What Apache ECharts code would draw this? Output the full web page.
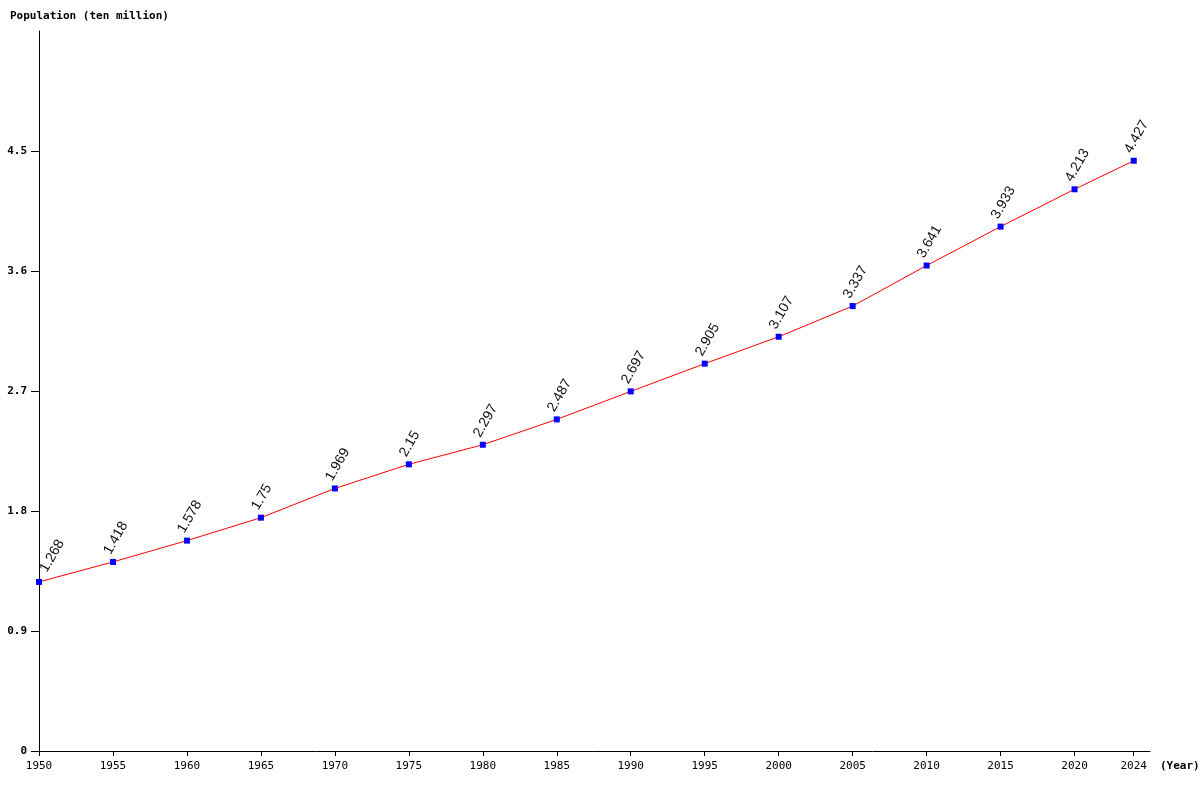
<!DOCTYPE html>
<html>
<head>
<meta charset="utf-8">
<script src="https://cdn.jsdelivr.net/npm/echarts@6/dist/echarts.min.js"></script>
<style>html,body{margin:0;padding:0;background:#fff}#c{width:1200px;height:800px}</style>
</head>
<body>
<div id="c"></div>
<script>
const years = [1950, 1955, 1960, 1965, 1970, 1975, 1980, 1985, 1990, 1995, 2000, 2005, 2010, 2015, 2020, 2024];
const population = [1.268, 1.418, 1.578, 1.75, 1.969, 2.15, 2.297, 2.487, 2.697, 2.905, 3.107, 3.337, 3.641, 3.933, 4.213, 4.427];
const yTicks = [0, 0.9, 1.8, 2.7, 3.6, 4.5];
const xTicks = years;

const chart = echarts.init(document.getElementById('c'), null, {renderer: 'canvas'});
const mono = '"DejaVu Sans Mono", monospace';
const seriesData = years.map((y, i) => {
  const item = {value: [y, population[i]]};
  if (i === 0) item.label = {offset: [9, 0]}; // first label kept clear of the y axis
  return item;
});
chart.setOption({
  animation: false,
  backgroundColor: '#fff',
  grid: {left: 39, right: 50, top: 31, bottom: 49, containLabel: false},
  graphic: [
    {type: 'text', left: 10, top: 11, style: {text: 'Population (ten million)', font: 'bold 11px ' + mono, fill: '#000'}},
    {type: 'text', left: 1160, top: 761, style: {text: '(Year)', font: 'bold 11px ' + mono, fill: '#000'}}
  ],
  xAxis: {
    type: 'value', min: 1950, max: 2025.1,
    axisLine: {show: true, onZero: false, lineStyle: {color: '#000', width: 1}},
    axisTick: {show: true, length: 5, customValues: xTicks, lineStyle: {color: '#000'}},
    axisLabel: {customValues: xTicks, color: '#000', fontFamily: mono, fontSize: 11, margin: 10, formatter: v => String(v)},
    splitLine: {show: false}
  },
  yAxis: {
    type: 'value', min: 0, max: 5.4,
    axisLine: {show: true, onZero: false, lineStyle: {color: '#000', width: 1}},
    axisTick: {show: true, length: 8, customValues: yTicks, lineStyle: {color: '#000'}},
    axisLabel: {customValues: yTicks, color: '#000', fontFamily: mono, fontWeight: 'bold', fontSize: 11, margin: 12, formatter: v => String(Math.round(v * 10) / 10)},
    splitLine: {show: false}
  },
  series: [{
    type: 'line',
    data: seriesData,
    lineStyle: {color: '#ff0000', width: 1},
    itemStyle: {color: '#0000ff'},
    symbol: 'rect', symbolSize: 6, showAllSymbol: true,
    label: {
      show: true, position: 'top', distance: 0, rotate: 60, align: 'left', verticalAlign: 'middle',
      offset: [2, -8],
      color: '#111', fontFamily: '"Liberation Sans", Arial, sans-serif', fontSize: 14,
      formatter: p => String(p.value[1])
    },
    emphasis: {disabled: true}
  }]
});
</script>
</body>
</html>
